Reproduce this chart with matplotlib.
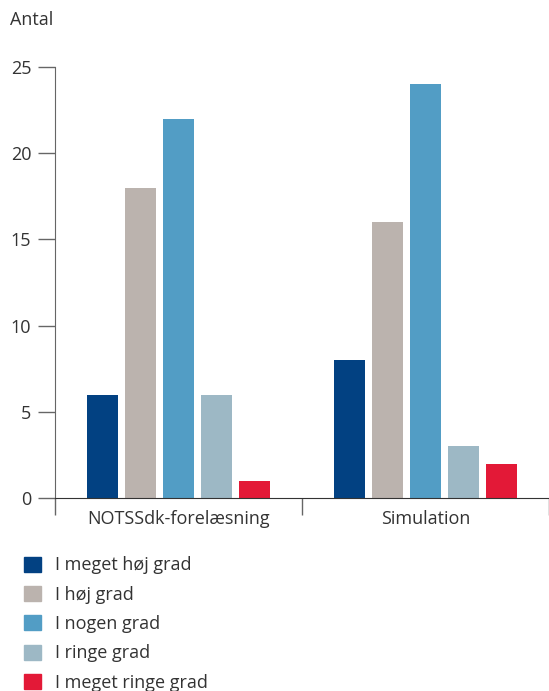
import matplotlib.pyplot as plt
from matplotlib.patches import Patch
import numpy as np

plt.rcParams['font.family'] = ['Open Sans', 'DejaVu Sans']

kategorier = ["NOTSSdk-forelæsning", "Simulation"]
svar = ["I meget høj grad", "I høj grad", "I nogen grad", "I ringe grad", "I meget ringe grad"]
meget_hoej = [6, 8]
hoej = [18, 16]
nogen = [22, 24]
ringe = [6, 3]
meget_ringe = [1, 2]
farver = ["#024182", "#bbb3ae", "#529dc5", "#9db8c5", "#e31937"]

serier = [meget_hoej, hoej, nogen, ringe, meget_ringe]

fig = plt.figure(figsize=(5.49, 6.91), dpi=100)
ax = fig.add_axes([55 / 549, 193 / 691, 494 / 549, 431 / 691])

x = np.arange(len(kategorier))
bredde = 0.126
afstand = 0.154
for i, (vaerdier, farve) in enumerate(zip(serier, farver)):
    ax.bar(x + (i - 2) * afstand, vaerdier, bredde, color=farve)

ax.set_xlim(-0.5, 1.5)
ax.set_ylim(0, 25)
ax.set_yticks([0, 5, 10, 15, 20, 25])
ax.set_xticks([-0.5, 0.5, 1.5])
ax.set_xticklabels([])
ax.set_xticks(x, minor=True)
ax.set_xticklabels(kategorier, minor=True)
ax.tick_params(axis='x', which='minor', length=0, pad=9, labelsize=13, colors='#333333')
ax.tick_params(axis='x', which='major', length=12, width=1, color='#666666')
ax.tick_params(axis='y', length=12, width=1, color='#666666', labelsize=13,
               labelcolor='#333333', pad=5)

ax.spines['top'].set_visible(False)
ax.spines['right'].set_visible(False)
ax.spines['left'].set_color('#666666')
ax.spines['bottom'].set_color('#333333')

fig.text(10 / 549, 1 - 20 / 691, "Antal", fontsize=13, color='#333333', va='center')

handles = [Patch(color=f) for f in farver]
fig.legend(handles, svar, loc='upper left', bbox_to_anchor=(8 / 549, 1 - 540 / 691),
           frameon=False, fontsize=13, handlelength=0.9, handleheight=0.9,
           labelspacing=0.63, handletextpad=0.8, labelcolor='#333333')

fig.savefig("out.png", dpi=100)
